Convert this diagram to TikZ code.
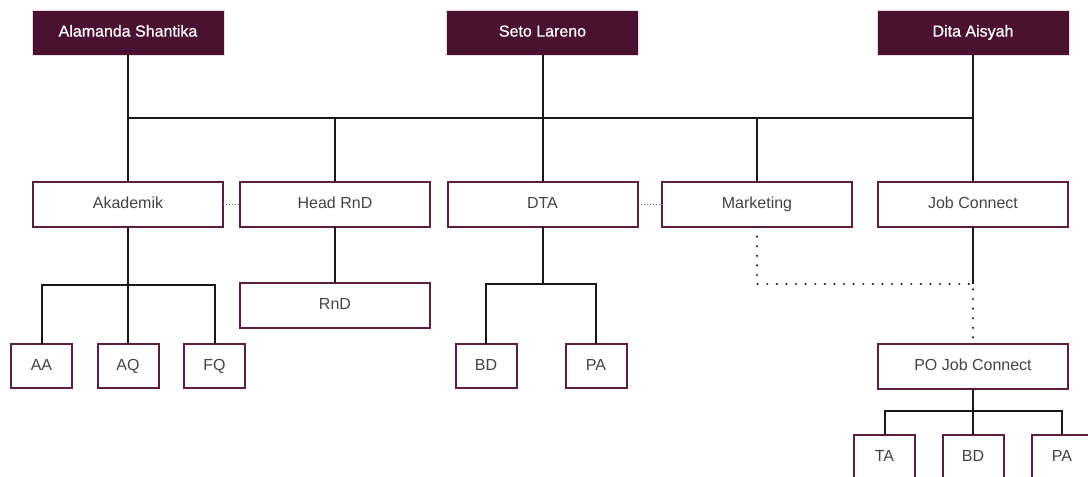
\documentclass[tikz,border=0pt]{standalone}
\usepackage{fontspec}
\setmainfont{Liberation Sans}
\newfontfamily\medfont[FakeBold=0.6]{Liberation Sans}
\definecolor{maroon}{HTML}{4A1230}
\definecolor{boxedge}{HTML}{5C1F40}
\definecolor{txt}{HTML}{444444}
\tikzset{
  head/.style={draw=white!85!maroon, line width=0.8pt, fill=maroon, text=white, font=\medfont\fontsize{16}{19}\selectfont, inner sep=0pt, outer sep=0pt, minimum width=192pt, minimum height=45pt, text height=11.5pt, text depth=3.3pt},
  unit/.style={draw=boxedge, line width=2pt, fill=white, text=txt, font=\fontsize{16}{19}\selectfont, inner sep=0pt, outer sep=0pt, minimum width=190pt, minimum height=45pt, text height=11.5pt, text depth=3.3pt},
  small/.style={unit, minimum width=61pt, minimum height=44pt},
  link/.style={line width=2pt, black!90},
  dots/.style={line width=2.4pt, black!85, dash pattern=on 0pt off 9.6pt, line cap=round},
  fine/.style={line width=1pt, black!55, dash pattern=on 1pt off 2pt}
}
\begin{document}
\begin{tikzpicture}[x=1pt,y=-1pt]
\useasboundingbox (0,0) rectangle (1088,477);
\fill[white] (0,0) rectangle (1088,477);
\clip (0,0) rectangle (1088,477);
% top
\node[head] (as) at (128,32.5) {Alamanda Shantika};
\node[head] (sl) at (542.5,32.5) {Seto Lareno};
\node[head] (da) at (973,32.5) {Dita Aisyah};
% second row
\node[unit] (ak) at (128,204.5) {Akademik};
\node[unit] (hr) at (335,204.5) {Head RnD};
\node[unit] (dta) at (542.5,204.5) {DTA};
\node[unit] (mk) at (757,204.5) {Marketing};
\node[unit] (jc) at (973,204.5) {Job Connect};
% third rows
\node[small] (aa) at (41.5,366) {AA};
\node[small] (aq) at (128,366) {AQ};
\node[small] (fq) at (214.5,366) {FQ};
\node[unit] (rnd) at (335,305.5) {RnD};
\node[small] (bda) at (486,366) {BD};
\node[small] (paa) at (596,366) {PA};
\node[unit] (po) at (973,366) {PO Job Connect};
\node[small] (ta) at (884.5,457) {TA};
\node[small] (bdb) at (973,457) {BD};
\node[small] (pab) at (1062,457) {PA};
% bus
\coordinate (busL) at (128,118);
\coordinate (busR) at (973,118);
\draw[link] (as.south) -- (ak.north);
\draw[link] (da.south) -- (jc.north);
\draw[link] (sl.south) -- (dta.north);
\draw[link] (busL) -- (busR);
\draw[link] (hr.north) -- (hr.north |- busL);
\draw[link] (mk.north) -- (mk.north |- busL);
% akademik branch
\coordinate (brA) at (128,285);
\draw[link] (ak.south) -- (aq.north);
\draw[link] (aa.north) |- (brA) -| (fq.north);
% rnd
\draw[link] (hr.south) -- (rnd.north);
% dta branch
\coordinate (brD) at (542.5,284);
\draw[link] (dta.south) -- (brD);
\draw[link] (bda.north) |- (brD) -| (paa.north);
% job connect
\coordinate (brJ) at (973,284);
\draw[link] (jc.south) -- (brJ);
\draw[dots] (mk.south) |- (brJ) -- (po.north);
% po branch
\coordinate (brP) at (973,411);
\draw[link] (po.south) -- (bdb.north);
\draw[link] (ta.north) |- (brP) -| (pab.north);
% dotted side links
\draw[fine] (ak.east) -- (hr.west);
\draw[fine] (dta.east) -- (mk.west);
\end{tikzpicture}
\end{document}
